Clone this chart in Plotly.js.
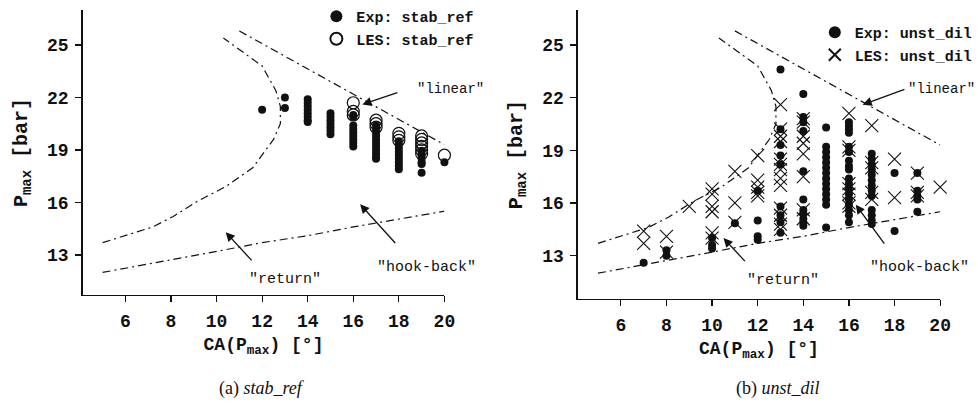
<!DOCTYPE html>
<html><head><meta charset="utf-8">
<script src="https://cdn.plot.ly/plotly-3.0.1.min.js"></script>
<style>html,body{margin:0;padding:0;background:#fff}#c{width:978px;height:405px}</style>
</head><body><div id="c"></div>
<script>
// ---- Panel (a) stab_ref ----
const stabExpX = [12, 13,13, 14,14,14,14,14,14,14,14, 15,15,15,15,15,15,15,
  16,16,16,16,16,16,16,16,16, 17,17,17,17,17,17,17,17,17,17,17,
  18,18,18,18,18,18,18,18,18, 19,19,19,19,19,19, 20];
const stabExpY = [21.3, 22.0,21.4, 21.9,21.7,21.5,21.3,21.1,20.9,20.7,20.6, 21.1,20.9,20.7,20.5,20.3,20.1,19.9,
  21.0,20.9,20.4,20.2,20.0,19.8,19.6,19.4,19.2, 20.4,20.2,20.0,19.8,19.6,19.4,19.2,19.0,18.8,18.6,18.5,
  19.5,19.3,19.1,18.9,18.7,18.5,18.3,18.1,17.9, 18.9,18.7,18.5,18.3,18.2,17.7, 18.3];
const stabLesX = [16,16,16, 17,17,17, 18,18,18, 19,19,19,19,19,19, 20];
const stabLesY = [21.7,21.2,21.0, 20.7,20.5,20.3, 19.95,19.75,19.55, 19.8,19.6,19.4,19.2,19.0,18.8, 18.7];

// ---- Panel (b) unst_dil ----
const unstExpX = [7, 8,8, 10,10,10, 11, 12,12,12,12,
  13,13,13,13,13,13,13,13,13,
  14,14,14,14,14,14,14,14,14,14,14,
  15,15,15,15,15,15,15,15,15,15,15,15,15,15,
  16,16,16,16,16,16,16,16,16,16,16,16,16,16,16,16,16,16,
  17,17,17,17,17,17,17,17,17,17,17,17,17,
  18,18, 19,19,19,19,19];
const unstExpY = [12.6, 13.3,13.0, 14.0,13.6,13.4, 14.85, 16.7,15.0,14.1,13.9,
  23.6,20.2,19.3,18.7,18.2,15.8,15.3,14.9,14.3,
  22.2,20.9,20.6,20.1,17.8,16.2,15.6,15.4,15.1,14.9,14.7,
  20.3,19.2,18.9,18.6,18.3,18.0,17.7,17.4,17.1,16.8,16.5,16.2,15.9,14.6,
  20.6,20.4,20.2,20.0,19.2,18.9,18.4,18.1,17.9,17.4,17.1,16.8,16.5,16.2,15.9,15.6,15.3,14.9,
  18.8,18.5,18.2,17.9,17.6,17.3,17.0,16.7,16.4,15.6,15.3,15.0,14.8,
  17.7,14.4, 17.7,16.7,16.4,16.2,15.5];
const unstLesX = [7,7, 8,8, 9, 10,10,10,10,10,10, 11,11,11, 12,12,12,12,12,
  13,13,13,13,13,13,13,13,13,13,13,13,13,
  14,14,14,14,14,14,14,14,
  16,16,16,16,16,16,16,16,
  17,17,17,17,17, 18,18, 19,19,19, 20];
const unstLesY = [14.4,13.7, 14.1,13.2, 15.8, 16.8,16.5,15.8,15.5,14.3,14.0, 17.8,16.0,14.9, 18.7,17.3,16.9,16.6,16.4,
  21.6,20.2,19.8,19.5,18.5,18.2,17.9,17.4,17.0,15.7,15.3,14.8,14.5,
  20.8,20.6,19.8,19.4,18.8,17.5,15.6,15.1,
  21.1,19.2,19.0,17.1,16.8,16.5,16.0,15.8,
  20.4,18.3,18.0,16.6,16.2, 18.5,16.3, 17.7,16.6,16.4, 16.9];

// ---- Regime boundary curves (same in both panels) ----
const linearX = [11, 20];
const linearY = [25.8, 19.3];
const hookX = [5, 8, 10, 12, 14, 16, 18, 20];
const hookY = [12.0, 12.7, 13.2, 13.7, 14.1, 14.6, 15.05, 15.5];
const returnX = [5, 7.2, 8.1, 9.2, 10.4, 11.6, 12.1, 12.5, 12.8, 12.8, 12.6, 12.0, 10.3];
const returnY = [13.7, 14.6, 15.2, 16.1, 16.9, 18.0, 18.9, 19.6, 20.5, 21.5, 22.4, 23.8, 25.4];

const xTicks = [6, 8, 10, 12, 14, 16, 18, 20];
const yTicks = [13, 16, 19, 22, 25];
const ink = '#111';
const mono = '"Liberation Mono", "Courier New", monospace';
const serif = '"Liberation Serif", "Times New Roman", serif';

function curves(xa, ya) {
  const ln = {color: ink, width: 1.2, dash: '8px,4px,2px,4px'};
  return [[linearX, linearY], [hookX, hookY], [returnX, returnY]].map(([x, y]) => ({
    x, y, xaxis: xa, yaxis: ya, mode: 'lines', line: ln, showlegend: false, hoverinfo: 'skip'
  }));
}

const traces = [
  ...curves('x', 'y'),
  ...curves('x2', 'y2'),
  {x: stabExpX, y: stabExpY, xaxis: 'x', yaxis: 'y', mode: 'markers', name: 'Exp: stab_ref',
   marker: {symbol: 'circle', size: 8, color: ink}, cliponaxis: false, legend: 'legend'},
  {x: stabLesX, y: stabLesY, xaxis: 'x', yaxis: 'y', mode: 'markers', name: 'LES: stab_ref',
   marker: {symbol: 'circle-open', size: 12, color: ink, line: {width: 1.2, color: ink}}, cliponaxis: false, legend: 'legend'},
  {x: unstExpX, y: unstExpY, xaxis: 'x2', yaxis: 'y2', mode: 'markers', name: 'Exp: unst_dil',
   marker: {symbol: 'circle', size: 8, color: ink}, cliponaxis: false, legend: 'legend2'},
  {x: unstLesX, y: unstLesY, xaxis: 'x2', yaxis: 'y2', mode: 'markers', name: 'LES: unst_dil',
   marker: {symbol: 'x-thin-open', size: 13, color: ink, line: {width: 1.1, color: ink}}, cliponaxis: false, legend: 'legend2'}
];

function xax(domain, range) {
  return {domain, range, tickvals: xTicks, ticks: 'outside', ticklen: 6, tickwidth: 1.2, tickcolor: ink,
    showline: true, linecolor: ink, linewidth: 1.3, showgrid: false, zeroline: false,
    tickfont: {family: mono, size: 18, weight: 700, color: ink}, ticklabelstandoff: 3,
    title: {text: 'CA(P<sub>max</sub>) [°]', font: {family: mono, size: 18, weight: 700, color: ink}, standoff: 6}};
}
function yax(domain, range, anchor) {
  return {domain, range, anchor, tickvals: yTicks, ticks: 'outside', ticklen: 6, tickwidth: 1.2, tickcolor: ink,
    showline: true, linecolor: ink, linewidth: 1.3, showgrid: false, zeroline: false,
    tickfont: {family: mono, size: 18, weight: 700, color: ink}, ticklabelstandoff: 3,
    title: {text: 'P<sub>max</sub> [bar]', font: {family: mono, size: 20, weight: 700, color: ink}, standoff: 14}};
}

function arrowNote(xref, yref, hx, hy, tx, ty) {
  return {xref, yref, x: hx, y: hy, axref: xref, ayref: yref, ax: tx, ay: ty, text: '', showarrow: true,
    arrowhead: 2, arrowsize: 1.4, arrowwidth: 1.3, arrowcolor: ink, standoff: 0, startstandoff: 0};
}
function label(xref, yref, x, y, text, size, anchor) {
  return {xref, yref, x, y, text, showarrow: false, font: {family: mono, size, color: ink},
    xanchor: anchor || 'center', yanchor: 'middle'};
}

const annotations = [
  // panel a
  arrowNote('x', 'y', 16.4, 21.6, 18.0, 22.3),
  arrowNote('x', 'y', 16.3, 15.9, 17.9, 13.6),
  arrowNote('x', 'y', 10.4, 14.3, 11.6, 12.6),
  label('x', 'y', 18.7, 22.5, '"linear"', 14, 'left'),
  label('x', 'y', 19.2, 12.3, '"hook-back"', 15),
  label('x', 'y', 13.0, 11.6, '"return"', 15),
  // panel b
  arrowNote('x2', 'y2', 16.6, 21.6, 18.5, 22.5),
  arrowNote('x2', 'y2', 16.3, 15.9, 17.6, 13.6),
  arrowNote('x2', 'y2', 10.5, 14.0, 11.5, 12.6),
  label('x2', 'y2', 18.5, 22.5, '"linear"', 14, 'left'),
  label('x2', 'y2', 19.1, 12.3, '"hook-back"', 15),
  label('x2', 'y2', 13.1, 11.6, '"return"', 15),
  // captions
  {xref: 'paper', yref: 'paper', x: 263 / 978, y: 1 - 388 / 405, text: '(a) <i>stab_ref</i>', showarrow: false,
   font: {family: serif, size: 18, color: ink}, xanchor: 'center', yanchor: 'middle'},
  {xref: 'paper', yref: 'paper', x: 782 / 978, y: 1 - 388 / 405, text: '(b) <i>unst_dil</i>', showarrow: false,
   font: {family: serif, size: 18, color: ink}, xanchor: 'center', yanchor: 'middle'}
];

const legFont = {family: mono, size: 15, weight: 700, color: ink};
const layout = {
  width: 978, height: 405,
  margin: {l: 0, r: 0, t: 0, b: 0},
  paper_bgcolor: '#fff', plot_bgcolor: '#fff',
  xaxis: xax([83 / 978, 446.7 / 978], [4.12, 20]),
  yaxis: yax([1 - 295 / 405, 1 - 10 / 405], [10.71, 27.0], 'x'),
  xaxis2: Object.assign(xax([580.7 / 978, 945 / 978], [4.11, 20]), {anchor: 'y2'}),
  yaxis2: yax([1 - 299 / 405, 1 - 10 / 405], [10.53, 26.99], 'x2'),
  legend: {x: 318 / 978, y: 1, xanchor: 'left', yanchor: 'top', font: legFont,
    bgcolor: 'rgba(0,0,0,0)', itemsizing: 'constant', tracegroupgap: 0},
  legend2: {x: 819 / 978, y: 1 - 16 / 405, xanchor: 'left', yanchor: 'top', font: legFont,
    bgcolor: 'rgba(0,0,0,0)', itemsizing: 'constant', tracegroupgap: 0},
  annotations,
  showlegend: true
};
layout.xaxis.anchor = 'y';

Plotly.newPlot('c', traces, layout, {staticPlot: true, displayModeBar: false});
</script>
</body></html>
